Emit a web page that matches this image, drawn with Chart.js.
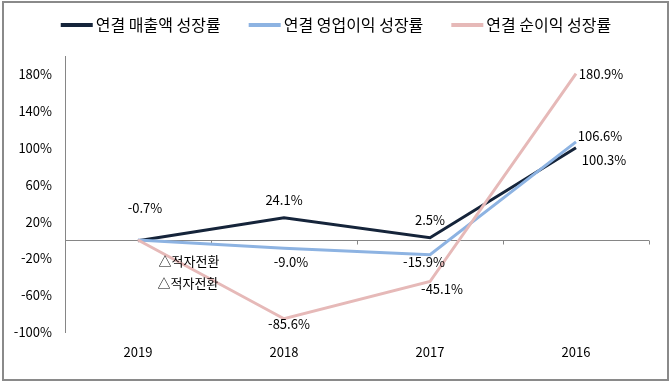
<!DOCTYPE html>
<html lang="ko">
<head>
    <meta charset="UTF-8">
    <title>연결 성장률</title>
    <script src="https://cdn.jsdelivr.net/npm/chart.js"></script>
    <style>
        html, body { margin: 0; padding: 0; background: #fff; }
        #wrap { position: relative; width: 672px; height: 385px; }
    </style>
</head>
<body>
    <div id="wrap">
        <canvas id="growthChart" width="672" height="385"></canvas>
    </div>
    <script>
        // 데이터
        const years = ['2019', '2018', '2017', '2016'];
        const seriesNames = ['연결 매출액 성장률', '연결 영업이익 성장률', '연결 순이익 성장률'];
        const salesGrowth = [-0.7, 24.1, 2.5, 100.3];
        const opProfitGrowth = [0, -9.0, -15.9, 106.6];
        const netProfitGrowth = [0, -85.6, -45.1, 180.9];
        const salesLabels = ['-0.7%', '24.1%', '2.5%', '100.3%'];
        const opProfitLabels = ['△적자전환', '-9.0%', '-15.9%', '106.6%'];
        const netProfitLabels = ['△적자전환', '-85.6%', '-45.1%', '180.9%'];
        const yTickValues = [-100, -60, -20, 20, 60, 100, 140, 180];

        // 스타일
        const colors = ['#15243a', '#8db3e2', '#e6b9b8'];
        const fontFamily = '"Noto Sans CJK KR", "Noto Sans", sans-serif';
        // 라벨 위치 (점 기준 오프셋)
        const labelOffsets = [
            [[7, -33], [0, -18], [0, -18], [28, 12]],
            [[51, 21], [7, 14], [-6, 7], [24, -6]],
            [[50, 43], [5, 5], [12, 8], [25, 0]]
        ];
        const allLabels = [salesLabels, opProfitLabels, netProfitLabels];

        // 테두리, 0 기준선, 범례, 데이터 라벨
        const extrasPlugin = {
            id: 'extras',
            beforeDraw(chart) {
                const ctx = chart.ctx;
                ctx.save();
                ctx.fillStyle = '#fff';
                ctx.fillRect(0, 0, chart.width, chart.height);
                ctx.strokeStyle = '#8a8a8a';
                ctx.lineWidth = 2;
                ctx.strokeRect(3, 2, 665, 378);
                ctx.restore();
            },
            beforeDatasetsDraw(chart) {
                const ctx = chart.ctx;
                const x = chart.scales.x;
                const y = chart.scales.y;
                const zeroY = Math.round(y.getPixelForValue(0)) + 0.5;
                ctx.save();
                ctx.strokeStyle = '#868686';
                ctx.lineWidth = 1;
                ctx.beginPath();
                ctx.moveTo(chart.chartArea.left, zeroY);
                ctx.lineTo(chart.chartArea.right, zeroY);
                for (let i = 0; i < years.length; i++) {
                    const bx = Math.round(x.getPixelForValue(i) + (x.getPixelForValue(1) - x.getPixelForValue(0)) / 2) + 0.5;
                    ctx.moveTo(bx, zeroY);
                    ctx.lineTo(bx, zeroY + 4);
                }
                ctx.stroke();
                ctx.restore();
            },
            afterDraw(chart) {
                const ctx = chart.ctx;
                ctx.save();
                // 데이터 라벨
                ctx.font = '13px ' + fontFamily;
                ctx.fillStyle = '#000';
                ctx.textAlign = 'center';
                ctx.textBaseline = 'middle';
                chart.data.datasets.forEach((ds, d) => {
                    const meta = chart.getDatasetMeta(d);
                    meta.data.forEach((pt, i) => {
                        const off = labelOffsets[d][i];
                        ctx.fillText(allLabels[d][i], pt.x + off[0], pt.y + off[1]);
                    });
                });
                // 범례
                ctx.font = '16px ' + fontFamily;
                const lineW = 32, gapText = 3, gapItem = 28;
                const widths = seriesNames.map(n => lineW + gapText + ctx.measureText(n).width);
                const total = widths.reduce((a, b) => a + b, 0) + gapItem * (widths.length - 1);
                let lx = (chart.width - total) / 2;
                const ly = 25;
                ctx.textAlign = 'left';
                seriesNames.forEach((name, i) => {
                    ctx.fillStyle = colors[i];
                    ctx.fillRect(lx, ly - 2, lineW, 4);
                    ctx.fillStyle = '#000';
                    ctx.fillText(name, lx + lineW + gapText, ly);
                    lx += widths[i] + gapItem;
                });
                ctx.restore();
            }
        };

        function makeDataset(i, data, order) {
            return {
                label: seriesNames[i],
                data: data,
                borderColor: colors[i],
                backgroundColor: colors[i],
                borderWidth: 3,
                pointRadius: 0,
                tension: 0,
                fill: false,
                order: order
            };
        }

        new Chart(document.getElementById('growthChart').getContext('2d'), {
            type: 'line',
            data: {
                labels: years,
                datasets: [
                    makeDataset(0, salesGrowth, 2),
                    makeDataset(1, opProfitGrowth, 1),
                    makeDataset(2, netProfitGrowth, 0)
                ]
            },
            options: {
                responsive: false,
                animation: false,
                layout: { padding: { top: 56, right: 23, left: 0, bottom: 0 } },
                plugins: {
                    legend: { display: false },
                    tooltip: { enabled: false }
                },
                scales: {
                    x: {
                        offset: true,
                        grid: { display: false, drawTicks: false },
                        border: { display: false },
                        ticks: {
                            color: '#000',
                            padding: 12,
                            font: { family: fontFamily, size: 13 }
                        },
                        afterFit(scale) { scale.height = 53; }
                    },
                    y: {
                        min: -100,
                        max: 200,
                        grid: { display: false, drawTicks: false },
                        border: { display: true, color: '#868686', width: 1 },
                        afterBuildTicks(scale) {
                            scale.ticks = yTickValues.map(v => ({ value: v }));
                        },
                        ticks: {
                            color: '#000',
                            padding: 13,
                            font: { family: fontFamily, size: 13 },
                            callback: v => v + '%'
                        },
                        afterFit(scale) { scale.width = 65; }
                    }
                }
            },
            plugins: [extrasPlugin]
        });
    </script>
</body>
</html>
